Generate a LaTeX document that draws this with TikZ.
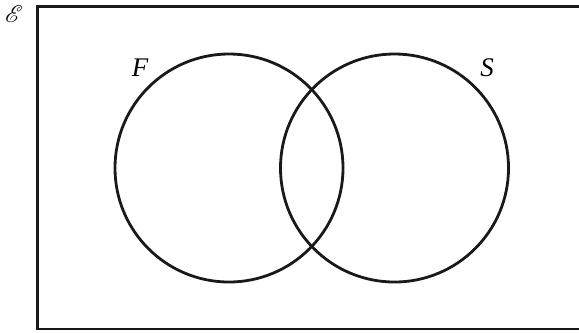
\documentclass[tikz,border=0pt]{standalone}
\usepackage{fontspec}
\setmainfont{Liberation Serif}
\usepackage{mathrsfs}
\usetikzlibrary{positioning}

\begin{document}
\begin{tikzpicture}[x=0.5bp, y=-0.5bp,
        % Estilo para los conjuntos
        conjunto/.style={
            circle,
            draw=black!90,
            line width=1.4pt,
            minimum size=114bp,
            inner sep=0pt
        },
        % Estilo para las etiquetas
        etiqueta/.style={
            font=\fontsize{13.5}{15}\selectfont\itshape,
            inner sep=0pt
        }
    ]
        \useasboundingbox (0,0) rectangle (579,332);

        % Universo
        \draw[line width=1.4pt, draw=black!90] (37.5,6.5) rectangle (590,329);
        \node[inner sep=0pt, font=\large] (univ) at (14,14) {$\mathscr{E}$};

        % Conjuntos
        \node[conjunto] (F) at (229,168) {};
        \node[conjunto] (S) at (394.5,168) {};

        \node[etiqueta] (lblF) at (140,68) {F};
        \node[etiqueta] (lblS) at (487,68) {S};

\end{tikzpicture}
\end{document}
